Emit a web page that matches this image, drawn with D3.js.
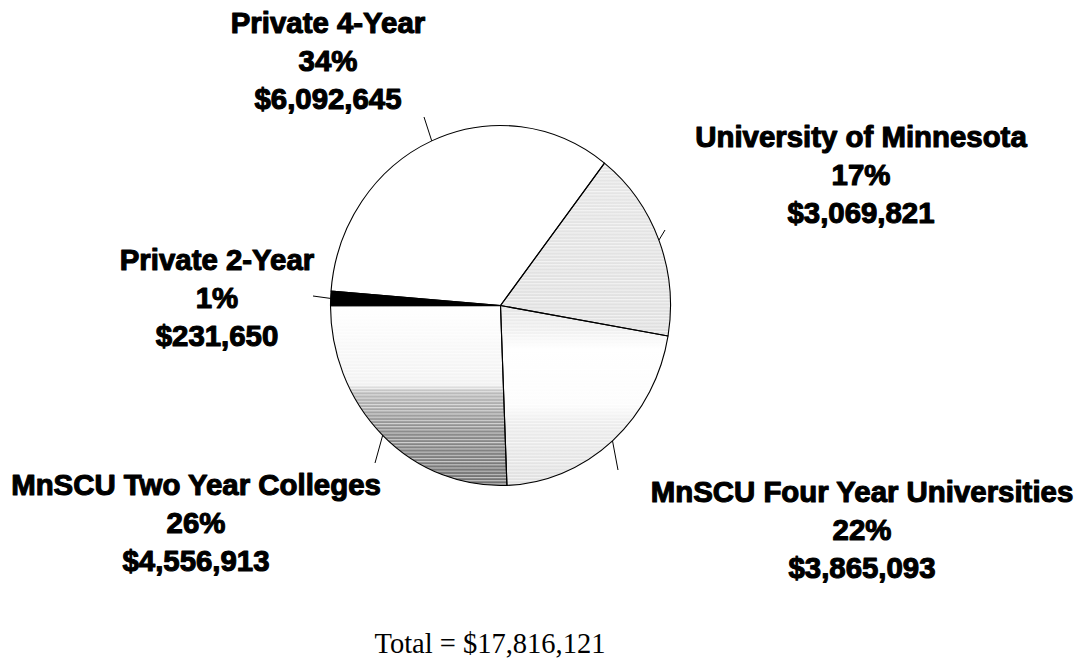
<!DOCTYPE html>
<html>
<head>
<meta charset="utf-8">
<script src="https://cdn.jsdelivr.net/npm/d3@7"></script>
<style>
  body { margin: 0; background: #fff; }
  .label { font-family: "Liberation Sans", Arial, sans-serif; font-weight: bold; font-size: 29.4px; fill: #000; stroke: #000; stroke-width: 1.1px; stroke-linejoin: round; }
  .total { font-family: "Liberation Serif", "Times New Roman", serif; font-size: 28.5px; fill: #000; }
</style>
</head>
<body>
<div id="chart"></div>
<script>
// data
const categories = ["University of Minnesota", "MnSCU Four Year Universities", "MnSCU Two Year Colleges", "Private 2-Year", "Private 4-Year"];
const values = [3069821, 3865093, 4556913, 231650, 6092645];
const totalValue = 17816121;

// layout (label anchor = text centre x, first baseline y; leader = outer end of the leader line)
const labelLayout = [
  { x: 861, y: 147, lx: 665, ly: 230 },
  { x: 862, y: 502, lx: 618, ly: 470 },
  { x: 196, y: 495, lx: 375, ly: 463 },
  { x: 217, y: 270, lx: 313, ly: 296 },
  { x: 328, y: 33, lx: 424, ly: 117 }
];
const fills = ["url(#gUmn)", "url(#gFour)", "url(#gTwo)", "#000", "#fff"];
const stripes = [true, true, true, false, false];

const width = 1078, height = 660;
const cx = 500.5, cy = 305.5, rx = 170, ry = 180;
const startDeg = 37.7;
const lineHeight = 38;

const svg = d3.select("#chart")
  .append("svg")
  .attr("width", width)
  .attr("height", height);

const defs = svg.append("defs");

function gradient(id, stops) {
  const g = defs.append("linearGradient")
    .attr("id", id)
    .attr("x1", 0).attr("x2", 0).attr("y1", 0).attr("y2", 1);
  g.selectAll("stop").data(stops).enter().append("stop")
    .attr("offset", d => d[0])
    .attr("stop-color", d => d[1]);
}
gradient("gUmn", [[0, "#e6e6e6"], [1, "#e0e0e0"]]);
gradient("gFour", [[0, "#e4e4e4"], [0.14, "#f0f0f0"], [0.24, "#ffffff"], [0.55, "#fcfcfc"], [0.66, "#ececec"], [1, "#e0e0e0"]]);
gradient("gTwo", [[0, "#ffffff"], [0.44, "#f2f2f2"], [0.48, "#bcbcbc"], [0.7, "#8c8c8c"], [1, "#707070"]]);

const pat = defs.append("pattern")
  .attr("id", "stripes")
  .attr("patternUnits", "userSpaceOnUse")
  .attr("width", 6).attr("height", 3);
pat.append("rect")
  .attr("width", 6).attr("height", 1)
  .attr("fill", "#fff").attr("fill-opacity", 0.6);

const pie = d3.pie()
  .sort(null)
  .value(d => d)
  .startAngle(startDeg * Math.PI / 180)
  .endAngle(startDeg * Math.PI / 180 + 2 * Math.PI);
const arcs = pie(values);

const arc = d3.arc().innerRadius(0).outerRadius(rx);

const g = svg.append("g")
  .attr("transform", `translate(${cx},${cy}) scale(1,${ry / rx})`);

g.selectAll("path.slice")
  .data(arcs)
  .enter()
  .append("path")
  .attr("class", "slice")
  .attr("d", arc)
  .attr("fill", (d, i) => fills[i]);

g.selectAll("path.stripe")
  .data(arcs.filter((d, i) => stripes[i]))
  .enter()
  .append("path")
  .attr("class", "stripe")
  .attr("d", arc)
  .attr("fill", "url(#stripes)");

g.selectAll("path.edge")
  .data(arcs)
  .enter()
  .append("path")
  .attr("class", "edge")
  .attr("d", arc)
  .attr("fill", "none")
  .attr("stroke", "#000")
  .attr("stroke-width", 1.1)
  .attr("vector-effect", "non-scaling-stroke")
  .attr("stroke-linejoin", "round");

// leader lines
arcs.forEach((d, i) => {
  const a = (d.startAngle + d.endAngle) / 2;
  const x0 = cx + rx * Math.sin(a);
  const y0 = cy - ry * Math.cos(a);
  svg.append("line")
    .attr("x1", x0).attr("y1", y0)
    .attr("x2", labelLayout[i].lx).attr("y2", labelLayout[i].ly)
    .attr("stroke", "#000")
    .attr("stroke-width", 1);
});

// labels
const fmtMoney = d3.format("$,");
arcs.forEach((d, i) => {
  const lines = [categories[i], Math.round(d.value / totalValue * 100) + "%", fmtMoney(d.value)];
  const t = svg.append("text")
    .attr("class", "label")
    .attr("text-anchor", "middle");
  lines.forEach((s, k) => {
    t.append("tspan")
      .attr("x", labelLayout[i].x)
      .attr("y", labelLayout[i].y + k * lineHeight)
      .text(s);
  });
});

svg.append("text")
  .attr("class", "total")
  .attr("x", 490)
  .attr("y", 653)
  .attr("text-anchor", "middle")
  .text("Total = " + fmtMoney(totalValue));
</script>
</body>
</html>
